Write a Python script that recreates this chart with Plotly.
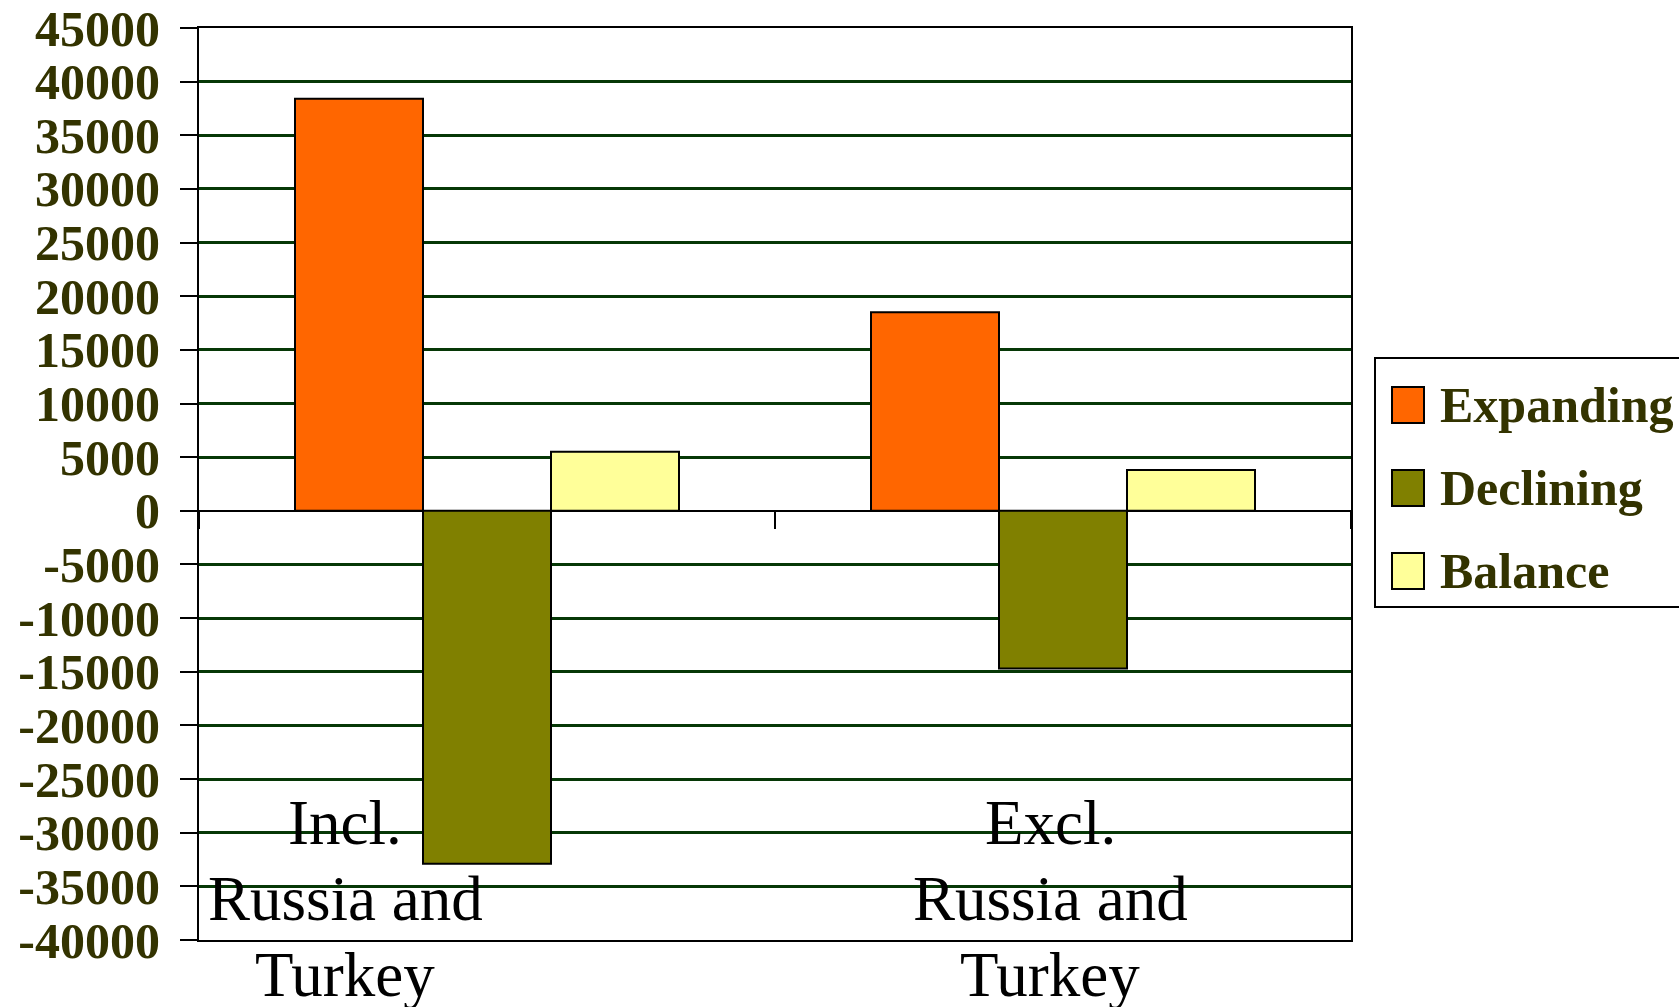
import plotly.graph_objects as go

# Regional employment change, including and excluding Russia and Turkey
categories = ["Incl. Russia and Turkey", "Excl. Russia and Turkey"]
category_lines = [["Incl.", "Russia and", "Turkey"], ["Excl.", "Russia and", "Turkey"]]
series_names = ["Expanding", "Declining", "Balance"]
expanding = [38400, 18500]
declining = [-32900, -14700]
balance = [5500, 3800]
series_values = [expanding, declining, balance]
series_colors = ["#FF6600", "#808000", "#FFFF99"]

y_min, y_max, y_step = -40000, 45000, 5000
y_ticks = list(range(y_min, y_max + 1, y_step))

W, H = 1679, 1007
L, R, T, B = 199, 328, 28, 67
plot_w = W - L - R
plot_h = H - T - B

label_font = "Liberation Serif, Times New Roman, serif"
olive_text = "#333300"


def px_x(px):
    return (px - L) / plot_w


def px_y(py):
    return (H - B - py) / plot_h


fig = go.Figure()
for name, vals, color in zip(series_names, series_values, series_colors):
    fig.add_trace(go.Bar(
        x=categories, y=vals, name=name,
        marker=dict(color=color, line=dict(color="black", width=2)),
        showlegend=False,
    ))

# category boundaries for the tick marks on the zero line
n_cat = len(categories)
boundaries = [i - 0.5 for i in range(n_cat + 1)]
zero_pos = (0 - y_min) / (y_max - y_min)

# empty helper trace so the zero-line axis is rendered
fig.add_trace(go.Scatter(x=[], y=[], xaxis="x2", yaxis="y",
                         showlegend=False, hoverinfo="skip"))

fig.update_layout(
    width=W, height=H,
    margin=dict(l=L, r=R, t=T, b=B, pad=0, autoexpand=False),
    paper_bgcolor="white", plot_bgcolor="white",
    barmode="group", bargap=1 / 3, bargroupgap=0,
    xaxis=dict(
        type="category", range=[-0.5, n_cat - 0.5], automargin=False,
        showticklabels=False, ticks="", showgrid=False, zeroline=False,
        showline=True, linecolor="black", linewidth=2, mirror=True,
    ),
    xaxis2=dict(
        type="linear", overlaying="x", anchor="free", position=zero_pos,
        automargin=False, range=[-0.5, n_cat - 0.5], tickvals=boundaries,
        showticklabels=False, ticks="outside", ticklen=17,
        tickwidth=2, tickcolor="black",
        showgrid=False, zeroline=False, showline=False,
    ),
    yaxis=dict(
        range=[y_min, y_max], tickvals=y_ticks, automargin=False,
        ticktext=[str(v) for v in y_ticks],
        ticks="outside", ticklen=17, tickwidth=2, tickcolor="black",
        ticklabelstandoff=10,
        tickfont=dict(family=label_font, size=50, color=olive_text, weight="bold"),
        showgrid=True, gridcolor="#063806", gridwidth=2.5,
        zeroline=True, zerolinecolor="black", zerolinewidth=2,
        showline=True, linecolor="black", linewidth=2, mirror=True,
    ),
)

# category labels, one annotation per text line
label_centres = [345, 1050]
line_rows = [823, 899, 975]
for cx, lines in zip(label_centres, category_lines):
    for row, txt in zip(line_rows, lines):
        fig.add_annotation(
            x=px_x(cx), y=px_y(row), xref="paper", yref="paper",
            text=txt, showarrow=False, xanchor="center", yanchor="middle",
            font=dict(family=label_font, size=63, color="black"),
        )

# legend panel
fig.add_shape(type="rect", xref="paper", yref="paper",
              x0=px_x(1375), x1=px_x(1720), y0=px_y(607), y1=px_y(358),
              line=dict(color="black", width=2), fillcolor="white", layer="above")
legend_rows = [405, 488, 571]
for name, color, row in zip(series_names, series_colors, legend_rows):
    fig.add_shape(type="rect", xref="paper", yref="paper",
                  x0=px_x(1392), x1=px_x(1424), y0=px_y(row + 18), y1=px_y(row - 18),
                  line=dict(color="black", width=2), fillcolor=color, layer="above")
    fig.add_annotation(
        x=px_x(1438), y=px_y(row), xref="paper", yref="paper",
        text=name, showarrow=False, xanchor="left", yanchor="middle",
        font=dict(family=label_font, size=50, color=olive_text, weight="bold"),
    )

fig.write_html("out.html")
